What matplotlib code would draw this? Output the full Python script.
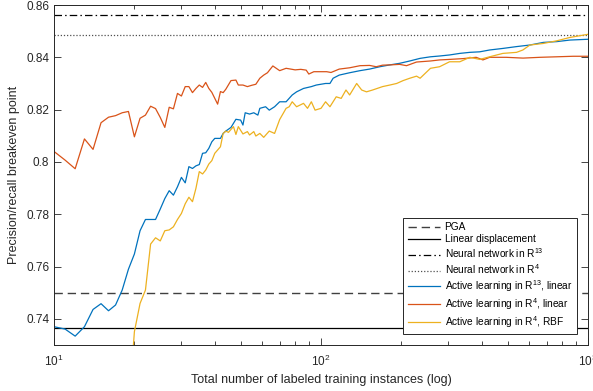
import numpy as np
import matplotlib.pyplot as plt
from matplotlib.ticker import FuncFormatter, LogLocator, NullFormatter

plt.rcParams['font.family'] = ['Liberation Sans', 'DejaVu Sans']
plt.rcParams['mathtext.default'] = 'regular'

# ── Reference levels ──────────────────────────────────────
pga = 0.750
linear_disp = 0.7365
nn_r13 = 0.856
nn_r4 = 0.8486

# ── Active learning curves ────────────────────────────────
al_r13_lin_x = [10, 11, 12, 13, 14, 15, 16, 17, 18, 19, 20, 21, 22, 23, 24, 25, 26, 27, 28, 29,
                30, 31, 32, 33, 34, 35, 36, 37, 38, 39, 40, 42, 43, 44, 46, 48, 50, 51, 52, 54,
                56, 58, 59, 62, 64, 67, 70, 74, 78, 81, 86, 92, 96, 104, 108, 111, 117, 128, 140, 152,
                166, 181, 197, 215, 235, 257, 278, 303, 331, 361, 393, 428, 480, 540, 606, 680, 763, 856, 1000]
al_r13_lin_y = [0.7370, 0.7361, 0.7334, 0.7370, 0.7436, 0.7458, 0.7431, 0.7453, 0.7510, 0.7590,
                0.7648, 0.7737, 0.7780, 0.7780, 0.7780, 0.7820, 0.7860, 0.7890, 0.7873, 0.7905,
                0.7941, 0.7920, 0.7982, 0.7975, 0.7985, 0.7990, 0.8033, 0.8035, 0.8052, 0.8077,
                0.8090, 0.8090, 0.8109, 0.8118, 0.8132, 0.8163, 0.8160, 0.8141, 0.8188, 0.8183,
                0.8188, 0.8179, 0.8205, 0.8211, 0.8198, 0.8211, 0.8230, 0.8230, 0.8256, 0.8268,
                0.8281, 0.8288, 0.8294, 0.8300, 0.8300, 0.8320, 0.8332, 0.8341, 0.8349, 0.8355,
                0.8364, 0.8371, 0.8377, 0.8386, 0.8396, 0.8402, 0.8405, 0.8409, 0.8415, 0.8419,
                0.8421, 0.8428, 0.8434, 0.8441, 0.8447, 0.8457, 0.8460, 0.8466, 0.8469]

al_r4_lin_x = [10, 11, 12, 13, 14, 15, 16, 17, 18, 19, 20, 21, 22, 23, 24, 25, 26, 27, 28, 29,
               30, 31, 32, 33, 34, 35, 36, 37, 38, 39, 41, 42, 43, 44, 46, 48, 49, 51, 53, 55,
               57, 59, 61, 63, 66, 70, 74, 77, 80, 84, 88, 90, 94, 99, 105, 109, 117, 128, 140, 152,
               161, 170, 181, 197, 209, 228, 257, 278, 303, 340, 381, 404, 428, 494, 571, 660, 763, 880, 1000]
al_r4_lin_y = [0.8040, 0.8007, 0.7974, 0.8088, 0.8048, 0.8150, 0.8171, 0.8177, 0.8188, 0.8193,
               0.8096, 0.8167, 0.8179, 0.8213, 0.8204, 0.8170, 0.8132, 0.8209, 0.8203, 0.8262,
               0.8252, 0.8288, 0.8288, 0.8265, 0.8281, 0.8294, 0.8285, 0.8304, 0.8281, 0.8266,
               0.8221, 0.8269, 0.8265, 0.8278, 0.8311, 0.8313, 0.8294, 0.8294, 0.8288, 0.8293,
               0.8297, 0.8320, 0.8332, 0.8341, 0.8367, 0.8349, 0.8358, 0.8355, 0.8352, 0.8354,
               0.8351, 0.8336, 0.8345, 0.8345, 0.8345, 0.8342, 0.8355, 0.8360, 0.8368, 0.8369,
               0.8364, 0.8370, 0.8371, 0.8373, 0.8368, 0.8382, 0.8386, 0.8390, 0.8392, 0.8395,
               0.8400, 0.8390, 0.8400, 0.8400, 0.8397, 0.8400, 0.8402, 0.8404, 0.8404]

al_r4_rbf_x = [19, 20, 21, 22, 23, 24, 25, 26, 27, 28, 29, 30, 31, 32, 33, 34, 35, 36, 37, 38,
               39, 40, 42, 43, 44, 45, 47, 48, 49, 51, 53, 54, 56, 57, 59, 61, 64, 67, 70, 74,
               76, 78, 81, 86, 89, 92, 95, 100, 104, 108, 114, 119, 124, 128, 136, 142, 148, 156, 170, 181,
               192, 203, 215, 228, 235, 257, 278, 303, 331, 361, 393, 428, 480, 540, 570, 606, 680, 763, 856, 1000]
al_r4_rbf_y = [0.7040, 0.7351, 0.7459, 0.7510, 0.7686, 0.7710, 0.7698, 0.7737, 0.7740, 0.7752,
               0.7780, 0.7803, 0.7840, 0.7865, 0.7848, 0.7899, 0.7963, 0.7954, 0.7969, 0.7992,
               0.8005, 0.8033, 0.8058, 0.8109, 0.8118, 0.8113, 0.8135, 0.8105, 0.8135, 0.8107,
               0.8116, 0.8103, 0.8116, 0.8099, 0.8109, 0.8094, 0.8118, 0.8109, 0.8162, 0.8205,
               0.8211, 0.8230, 0.8211, 0.8224, 0.8205, 0.8230, 0.8198, 0.8205, 0.8230, 0.8211,
               0.8249, 0.8243, 0.8275, 0.8256, 0.8300, 0.8275, 0.8268, 0.8275, 0.8288, 0.8294,
               0.8300, 0.8311, 0.8320, 0.8328, 0.8320, 0.8358, 0.8364, 0.8383, 0.8383, 0.8400,
               0.8392, 0.8402, 0.8415, 0.8419, 0.8428, 0.8447, 0.8453, 0.8463, 0.8476, 0.8488]

# ── Figure ────────────────────────────────────────────────
fig = plt.figure(figsize=(5.93, 3.91), dpi=100)
ax = fig.add_axes([0.0911, 0.1176, 0.9005, 0.8696])

ax.axhline(pga, color='#404040', lw=1.0, ls=(0, (6, 3.5)), label='PGA')
ax.axhline(linear_disp, color='black', lw=0.9, label='Linear displacement')
ax.axhline(nn_r13, color='black', lw=0.9, ls=(0, (6, 2.5, 1.2, 2.5)), label='Neural network in R$^{13}$')
ax.axhline(nn_r4, color='#505050', lw=0.9, ls=(0, (1, 1.5)), label='Neural network in R$^{4}$')

ax.plot(al_r13_lin_x, al_r13_lin_y, color='#0072BD', lw=0.9, label='Active learning in R$^{13}$, linear')
ax.plot(al_r4_lin_x, al_r4_lin_y, color='#D95319', lw=0.9, label='Active learning in R$^{4}$, linear')
ax.plot(al_r4_rbf_x, al_r4_rbf_y, color='#EDB120', lw=0.9, label='Active learning in R$^{4}$, RBF')

# ── Axes style ────────────────────────────────────────────
ax.set_xscale('log')
ax.set_xlim(10, 1000)
ax.set_ylim(0.73, 0.86)
ax.set_yticks([0.74, 0.76, 0.78, 0.80, 0.82, 0.84, 0.86])
ax.yaxis.set_major_formatter(FuncFormatter(lambda v, p: '%g' % round(v, 2)))
ax.xaxis.set_minor_locator(LogLocator(base=10, subs=np.arange(2, 10)))
ax.xaxis.set_minor_formatter(NullFormatter())

ax.tick_params(which='both', direction='in', top=True, right=True,
               color='#262626', labelcolor='#262626', labelsize=8.5)
ax.tick_params(which='major', length=5, width=0.6)
ax.tick_params(which='minor', length=3, width=0.6)
ax.tick_params(axis='x', pad=6)
for s in ax.spines.values():
    s.set_color('#262626')
    s.set_linewidth(0.7)

ax.set_xlabel('Total number of labeled training instances (log)', fontsize=9, color='#262626')
ax.set_ylabel('Precision/recall breakeven point', fontsize=9, color='#262626')

leg = ax.legend(loc='lower right', bbox_to_anchor=(0.979, 0.032), fontsize=7.3,
                frameon=True, fancybox=False, edgecolor='#262626', framealpha=1,
                handlelength=3.25, handletextpad=0.4, borderpad=0.45, labelspacing=0.2,
                borderaxespad=0)
leg.get_frame().set_linewidth(0.7)

fig.savefig('out.png', dpi=100)
